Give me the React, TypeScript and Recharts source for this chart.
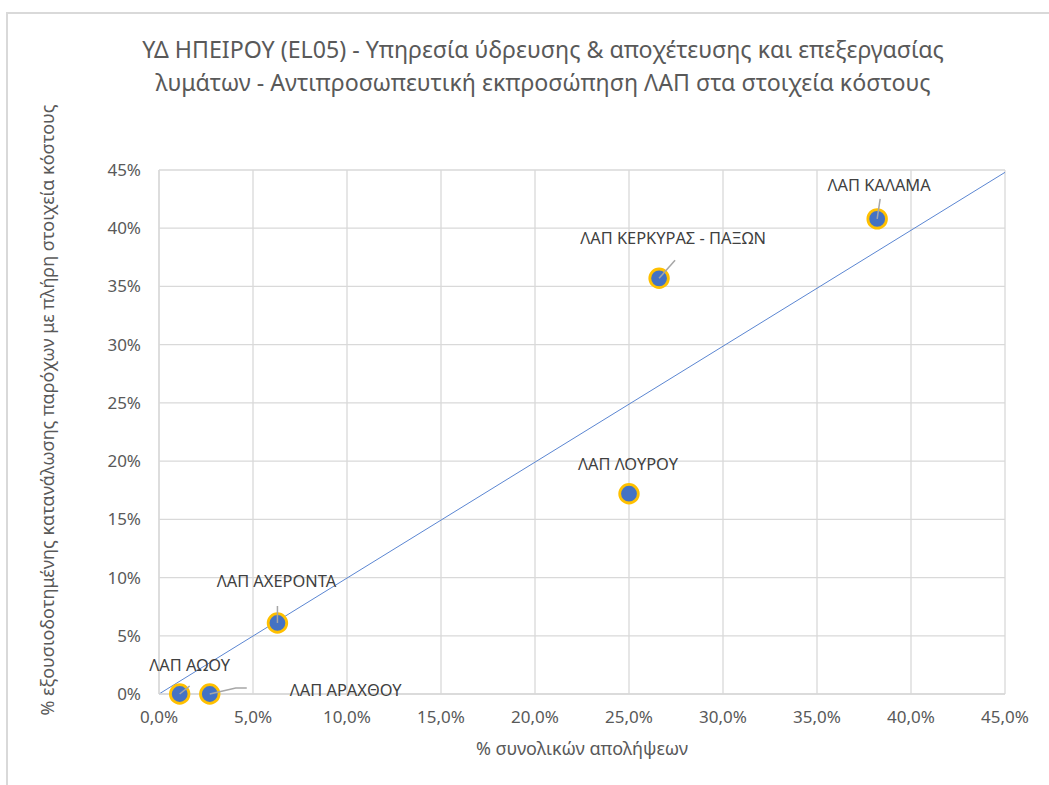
import React from 'react';
import {
  ScatterChart,
  Scatter,
  XAxis,
  YAxis,
  CartesianGrid,
  ReferenceLine,
} from 'recharts';

// ---- data ----
const pointNames = [
  'ΛΑΠ ΑΩΟΥ',
  'ΛΑΠ ΑΡΑΧΘΟΥ',
  'ΛΑΠ ΑΧΕΡΟΝΤΑ',
  'ΛΑΠ ΛΟΥΡΟΥ',
  'ΛΑΠ ΚΕΡΚΥΡΑΣ - ΠΑΞΩΝ',
  'ΛΑΠ ΚΑΛΑΜΑ',
];
const xValues = [1.1, 2.7, 6.3, 25.0, 26.6, 38.2]; // % συνολικών απολήψεων
const yValues = [0, 0, 6.1, 17.2, 35.7, 40.8]; // % εξουσιοδοτημένης κατανάλωσης
const xTicks = [0, 5, 10, 15, 20, 25, 30, 35, 40, 45];
const yTicks = [0, 5, 10, 15, 20, 25, 30, 35, 40, 45];
const diagonal = [
  { x: 0, y: 0 },
  { x: 45, y: 44.8 },
];

const titleLines = [
  'ΥΔ ΗΠΕΙΡΟΥ (EL05) - Υπηρεσία ύδρευσης & αποχέτευσης και επεξεργασίας',
  'λυμάτων - Αντιπροσωπευτική εκπροσώπηση ΛΑΠ στα στοιχεία κόστους',
];
const xTitle = '% συνολικών απολήψεων';
const yTitle = '% εξουσιοδοτημένης κατανάλωσης παρόχων με πλήρη στοιχεία κόστους';

// label placement (pixel offsets from marker centre)
const labelLayout: Record<string, { dx: number; dy: number; anchor: string; leader: number[][] | null }> = {
  'ΛΑΠ ΑΩΟΥ': { dx: 10, dy: -30, anchor: 'middle', leader: [[0, 0], [10, -8]] },
  'ΛΑΠ ΑΡΑΧΘΟΥ': { dx: 80, dy: -5, anchor: 'start', leader: [[0, 0], [26, -6], [37, -6]] },
  'ΛΑΠ ΑΧΕΡΟΝΤΑ': { dx: -1, dy: -42, anchor: 'middle', leader: [[0, 0], [0, -17]] },
  'ΛΑΠ ΛΟΥΡΟΥ': { dx: -1, dy: -30, anchor: 'middle', leader: null },
  'ΛΑΠ ΚΕΡΚΥΡΑΣ - ΠΑΞΩΝ': { dx: 14, dy: -41, anchor: 'middle', leader: [[0, 0], [16, -18]] },
  'ΛΑΠ ΚΑΛΑΜΑ': { dx: 2, dy: -34, anchor: 'middle', leader: [[0, 0], [3, -20]] },
};

const points = pointNames.map((name, i) => ({ name, x: xValues[i], y: yValues[i] }));

const FONT = "'Noto Sans', sans-serif";

const PointShape = (props: any) => {
  const { cx, cy, payload } = props;
  const lay = labelLayout[payload.name];
  return (
    <g>
      <circle cx={cx} cy={cy} r={9.3} fill="#4472C4" stroke="#FFC000" strokeWidth={2.8} />
      {lay && lay.leader && (
        <polyline
          points={lay.leader.map((p) => `${cx + p[0]},${cy + p[1]}`).join(' ')}
          fill="none"
          stroke="#a6a6a6"
          strokeWidth={1.5}
        />
      )}
      {lay && (
        <text
          x={cx + lay.dx}
          y={cy + lay.dy}
          textAnchor={lay.anchor as any}
          dominantBaseline="central"
          fontFamily={FONT}
          fontSize={16.4}
          fill="#404040"
        >
          {payload.name}
        </text>
      )}
    </g>
  );
};

const fmtX = (v: number) => `${v.toFixed(1).replace('.', ',')}%`;
const fmtY = (v: number) => `${v}%`;

export default function App() {
  return (
    <div style={{ position: 'absolute', left: 0, top: 0, width: 1049, height: 785, background: '#fff', overflow: 'hidden' }}>
      <div
        style={{
          position: 'absolute',
          left: 6,
          top: 12,
          width: 1100,
          height: 800,
          borderLeft: '2px solid #d9d9d9',
          borderTop: '2px solid #d9d9d9',
        }}
      />
      <ScatterChart
        width={1049}
        height={785}
        margin={{ top: 170, right: 44, bottom: 0, left: 0 }}
        style={{ position: 'absolute', left: 0, top: 0 }}
      >
        <CartesianGrid stroke="#d9d9d9" strokeWidth={1.3} />
        <XAxis
          type="number"
          dataKey="x"
          domain={[0, 45]}
          ticks={xTicks}
          tickFormatter={fmtX}
          height={91}
          axisLine={{ stroke: '#d9d9d9', strokeWidth: 1.3 }}
          tickLine={false}
          tickSize={0}
          tickMargin={17}
          tick={{ fill: '#595959', fontSize: 17, fontFamily: FONT }}
          label={{
            content: () => (
              <text x={582} y={748} textAnchor="middle" dominantBaseline="central" fontFamily={FONT} fontSize={18} fill="#595959">
                {xTitle}
              </text>
            ),
          }}
        />
        <YAxis
          type="number"
          dataKey="y"
          domain={[0, 45]}
          ticks={yTicks}
          tickFormatter={fmtY}
          width={159}
          axisLine={{ stroke: '#d9d9d9', strokeWidth: 1.3 }}
          tickLine={false}
          tickSize={0}
          tickMargin={18}
          tick={{ fill: '#595959', fontSize: 17, fontFamily: FONT }}
          label={{
            content: () => (
              <text
                x={47}
                y={410}
                transform="rotate(-90 47 410)"
                textAnchor="middle"
                dominantBaseline="central"
                fontFamily={FONT}
                fontSize={18}
                fill="#595959"
              >
                {yTitle}
              </text>
            ),
          }}
        />
        <ReferenceLine
          segment={diagonal}
          stroke="#5b86d2"
          strokeWidth={1}
          ifOverflow="visible"
        />
        <Scatter data={points} isAnimationActive={false} shape={PointShape} />
      </ScatterChart>
      <div
        style={{
          position: 'absolute',
          left: 0,
          top: 33,
          width: 1086,
          textAlign: 'center',
          fontFamily: FONT,
          fontSize: 23.2,
          lineHeight: '33px',
          color: '#595959',
        }}
      >
        {titleLines.map((l, i) => (
          <div key={i}>{l}</div>
        ))}
      </div>
    </div>
  );
}
